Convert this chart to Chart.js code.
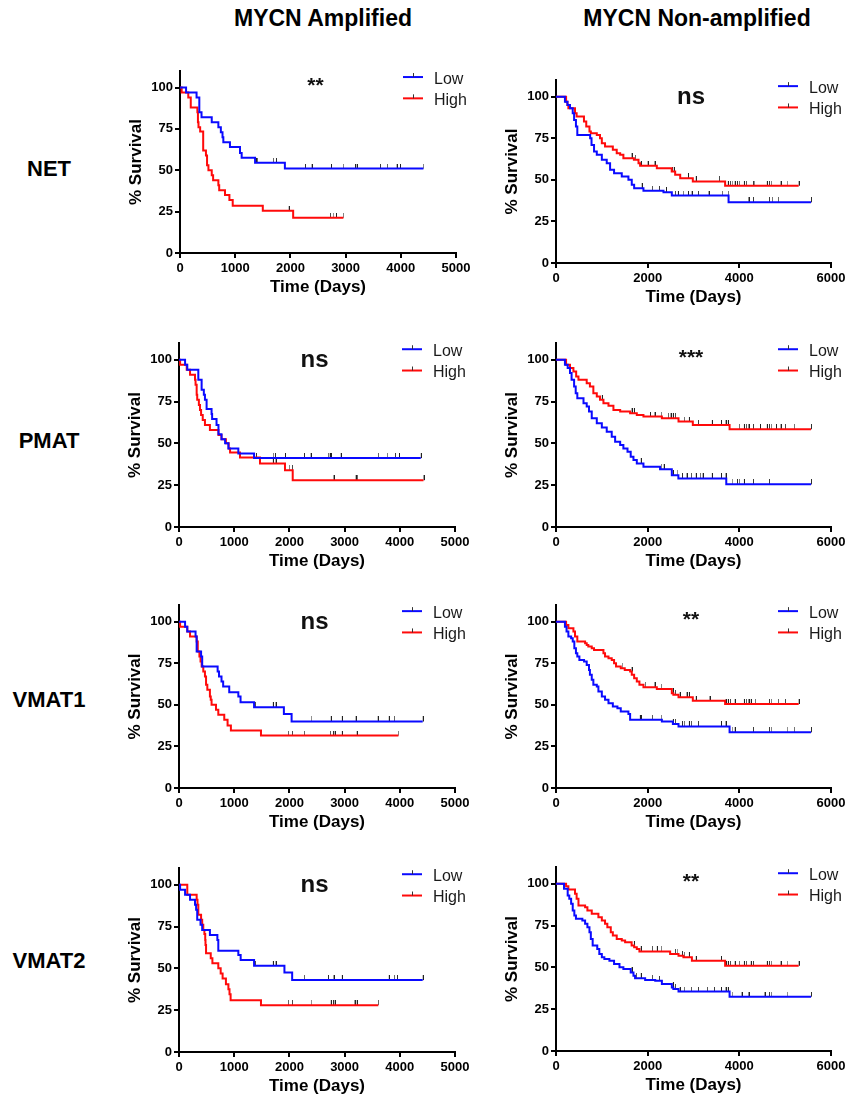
<!DOCTYPE html>
<html>
<head>
<meta charset="utf-8">
<title>KM survival - MYCN</title>
<script src="https://cdn.jsdelivr.net/npm/chart.js@4.4.1/dist/chart.umd.min.js"></script>
<style>
  body { margin: 0; background: #fff; }
  #page { position: relative; width: 849px; height: 1101px; overflow: hidden;
          font-family: "Liberation Sans", Arial, sans-serif; color: #000; }
  .lbl { position: absolute; font-weight: bold; font-size: 22px; line-height: 1;
         white-space: nowrap; transform: translate(-50%, -50%); }
  .lbl.hdr { font-size: 23px; }
  canvas { position: absolute; }
</style>
</head>
<body>
<div id="page"></div>
<script>
// ---- labels ----
const groupLabels = ['MYCN Amplified', 'MYCN Non-amplified'];
const geneLabels = ['NET', 'PMAT', 'VMAT1', 'VMAT2'];
const seriesLabels = ['Low', 'High'];
const sigLabels = ['**', 'ns', 'ns', '***', 'ns', '**', 'ns', '**'];

// ---- axis ticks ----
const yTicks = [0, 25, 50, 75, 100];
const xTicksAmp = [0, 1000, 2000, 3000, 4000, 5000];
const xTicksNon = [0, 2000, 4000, 6000];

// ---- Kaplan-Meier steps: [day, % survival] ; censored days ----
const netAmpLow = [[0,100],[110,97],[300,94],[350,85],[390,82],[575,79],[695,76],[740,73],[770,70],[785,67],[905,64],[1087,60.5],[1117,57.5],[1360,54.5],[1900,51],[4410,51]];
const netAmpLowCens = [1375,1400,1690,1740,2265,2385,2735,2960,3170,3200,3625,3755,3925,3985,4410];
const netAmpHigh = [[0,100],[30,97],[150,94],[195,88],[315,85],[325,79],[335,76],[365,73.5],[420,62],[470,59],[490,53],[515,50],[575,47],[600,44],[695,41],[710,38],[815,35],[895,32],[955,28.5],[1500,25.5],[2050,21.3],[2960,21.3]];
const netAmpHighCens = [600,1970,2050,2720,2780,2825,2960];

const netNonLow = [[0,100],[195,97],[250,95],[305,93],[365,90],[395,86],[435,82],[465,77],[745,75],[775,71],[830,67],[890,65],[1000,62],[1107,60],[1180,56],[1267,54],[1435,52],[1580,50],[1653,47],[1705,45],[1908,43.5],[2345,42.5],[2527,40.5],[3765,36.5],[5565,36.5]];
const netNonLowCens = [1870,2100,2250,2400,2600,2660,2780,2880,2960,3100,3330,3630,3760,4200,4300,4650,4720,4850,5565];
const netNonHigh = [[0,100],[220,97],[250,95],[270,93],[415,90],[450,88],[610,85],[660,82],[730,79],[760,78],[890,77],[960,75],[1000,72],[1070,70],[1240,68],[1325,66],[1400,65],[1470,63],[1700,62],[1800,60],[1835,58.5],[2200,57],[2525,55],[2600,53],[2710,51],[2985,49],[3690,46.5],[5295,46.5]];
const netNonHighCens = [1650,1730,1850,2000,2150,2530,2570,2880,2890,3050,3560,3750,3800,3850,3900,3950,4000,4100,4150,4300,4330,4600,4650,4700,4900,5050,5295];

const pmatAmpLow = [[0,100],[110,97],[150,94],[350,88],[410,82],[450,79],[470,76],[500,70.5],[590,67.5],[600,64.5],[680,61],[715,55.5],[770,52.5],[835,50],[895,47],[1075,44],[1360,41.2],[4380,41.2]];
const pmatAmpLowCens = [1395,1710,1740,1920,2265,2385,2705,2730,2750,2930,3610,3775,3915,3985,4380];
const pmatAmpHigh = [[0,100],[20,97],[140,94],[200,91],[290,88],[300,85],[320,79],[330,76],[360,73],[380,70],[400,67],[430,64],[470,61],[560,58],[715,55],[770,52.5],[850,50],[900,47],[925,44.5],[1105,41.5],[1467,38],[1920,34],[2060,28],[4430,28]];
const pmatAmpHighCens = [1700,1750,2000,2050,2800,3200,3230,4430];

const pmatNonLow = [[0,100],[195,97],[255,95],[305,92],[340,88],[395,84],[430,80],[465,77],[600,74],[670,72],[720,69],[780,65],[890,62],[1000,59.5],[1107,57],[1216,54],[1290,51],[1400,49],[1470,47],[1560,45],[1630,42],[1690,40],[1763,38],[1908,36],[2270,34.5],[2527,31],[2670,29],[3715,25.5],[5565,25.5]];
const pmatNonLowCens = [1850,2300,2350,2550,2650,2750,2850,2950,3050,3150,3200,3400,3600,3700,3850,3950,4000,4100,4300,4650,5565];
const pmatNonHigh = [[0,100],[220,97],[305,95],[380,93],[440,90],[490,88],[670,86],[740,84],[815,80],[890,78],[960,76],[1035,74],[1145,72.5],[1253,70],[1400,69],[1617,68],[1763,67],[1908,66],[2310,65],[2673,63],[2985,61],[3787,58.5],[5565,58.5]];
const pmatNonHighCens = [1000,1650,1700,2050,2150,2300,2450,2500,2550,2600,2800,2900,3100,3400,3600,3700,3750,4000,4100,4150,4200,4300,4450,4600,4650,4700,4800,4900,5000,5200,5565];

const vmat1AmpLow = [[0,100],[110,97],[150,94],[300,91],[320,82],[400,79],[420,73],[700,70],[725,67],[770,64],[800,61],[910,57.5],[1075,55],[1115,51.5],[1360,48.5],[1900,44.5],[2040,40],[4415,40]];
const vmat1AmpLowCens = [1380,1700,1750,2400,2750,2950,3200,3600,3800,3900,4415];
const vmat1AmpHigh = [[0,100],[20,97],[150,94],[200,91],[320,88],[340,82],[370,79],[390,76],[410,73],[440,70],[470,67],[490,62],[513,59],[560,55],[575,53],[590,50],[670,47],[712,44],[820,41],[880,37.5],[940,34.5],[1485,31.5],[3975,31.5]];
const vmat1AmpHighCens = [1980,2050,2270,2740,2790,2820,2950,3220,3975];

const vmat1NonLow = [[0,100],[195,97],[230,94],[270,91],[330,90],[365,88],[400,84],[435,81],[465,79],[510,77],[612,76],[670,74],[720,71],[740,68],[780,65],[815,62],[890,61],[925,58],[1000,55],[1070,53],[1145,51],[1240,49],[1340,48],[1413,46],[1580,44.5],[1617,41],[2310,40],[2550,38.5],[2673,37],[3787,33.5],[5565,33.5]];
const vmat1NonLowCens = [1830,1850,2100,2300,2550,2600,2750,2800,2900,2950,3100,3600,3700,3850,3900,4300,4650,4700,5050,5200,5565];
const vmat1NonHigh = [[0,100],[220,98],[270,96],[380,94],[415,91],[465,88],[635,87],[670,86],[705,85],[780,84],[830,83],[1035,81],[1070,79],[1145,78],[1216,77],[1267,75],[1310,73],[1413,72],[1500,71],[1617,70],[1653,68],[1705,66],[1763,64],[1820,62],[1908,60.5],[2200,59.5],[2527,57],[2560,56],[2673,54.5],[2985,52.5],[3690,50.5],[5295,50.5]];
const vmat1NonHighCens = [1450,1650,1950,2150,2300,2550,2600,2700,2850,2900,3050,3350,3700,3750,3800,3900,4100,4150,4200,4250,4350,4650,4700,4850,5000,5295];

const vmat2AmpLow = [[0,100],[20,97],[110,94],[200,91],[290,88],[310,85],[330,79],[390,76],[420,73],[560,70],[695,67],[712,60.5],[1075,58],[1117,55],[1360,51.5],[1910,47.5],[2050,43],[4415,43]];
const vmat2AmpLowCens = [1380,1700,1750,2270,2700,2800,2950,3800,3900,3950,4415];
const vmat2AmpHigh = [[0,100],[150,94],[320,91],[335,88],[350,82],[400,79],[420,76],[440,73],[460,70.5],[475,67],[480,64],[490,59],[575,56],[605,53],[712,50],[755,47],[790,44],[850,40.5],[895,37.5],[915,34.5],[935,31],[1485,28],[3610,28]];
const vmat2AmpHighCens = [1980,2050,2400,2750,2790,2820,3180,3220,3610];

const vmat2NonLow = [[0,100],[175,97],[255,93],[290,91],[330,88],[365,84],[400,81],[435,79],[575,78],[635,76],[685,74],[730,71],[760,67],[800,63],[900,61],[945,58],[1000,56],[1055,55],[1165,54],[1267,52],[1385,50],[1470,49],[1630,47],[1690,45],[1725,43.5],[1945,42.5],[2165,42],[2310,40],[2527,38],[2560,37],[2673,35.5],[3787,32.5],[5565,32.5]];
const vmat2NonLowCens = [1650,1750,1850,2100,2250,2550,2600,2700,2800,2950,3100,3300,3450,3600,3700,3750,3850,4050,4200,4550,4650,4700,5050,5565];
const vmat2NonHigh = [[0,100],[220,98.5],[270,96.5],[415,94],[450,91],[490,87],[635,86],[685,84],[780,82],[925,80],[1000,78],[1070,76],[1120,74],[1195,71],[1240,69],[1325,67],[1435,66],[1508,65],[1650,63],[1705,62],[1763,61],[1820,59.5],[2490,58],[2673,57],[2780,56],[2965,54],[3690,51],[5295,51]];
const vmat2NonHighCens = [1700,1850,2100,2200,2300,2600,2650,2750,2800,2900,3050,3600,3700,3750,3800,3900,4000,4100,4150,4250,4300,4600,4650,4700,4900,5050,5295];

const BLUE = '#0a0aff';
const RED = '#ff0a0a';

// panels in reading order, with the page box of each plot area [left, right, top(110%), bottom(0%)]
const panels = [
  { low: netAmpLow, lowCens: netAmpLowCens, high: netAmpHigh, highCens: netAmpHighCens, xMax: 5000, xTicks: xTicksAmp, box: [180, 456, 71, 253] },
  { low: netNonLow, lowCens: netNonLowCens, high: netNonHigh, highCens: netNonHighCens, xMax: 6000, xTicks: xTicksNon, box: [556, 831, 80, 263] },
  { low: pmatAmpLow, lowCens: pmatAmpLowCens, high: pmatAmpHigh, highCens: pmatAmpHighCens, xMax: 5000, xTicks: xTicksAmp, box: [179, 455, 343, 527] },
  { low: pmatNonLow, lowCens: pmatNonLowCens, high: pmatNonHigh, highCens: pmatNonHighCens, xMax: 6000, xTicks: xTicksNon, box: [556, 831, 343, 527] },
  { low: vmat1AmpLow, lowCens: vmat1AmpLowCens, high: vmat1AmpHigh, highCens: vmat1AmpHighCens, xMax: 5000, xTicks: xTicksAmp, box: [179, 455, 605, 788] },
  { low: vmat1NonLow, lowCens: vmat1NonLowCens, high: vmat1NonHigh, highCens: vmat1NonHighCens, xMax: 6000, xTicks: xTicksNon, box: [556, 831, 605, 788] },
  { low: vmat2AmpLow, lowCens: vmat2AmpLowCens, high: vmat2AmpHigh, highCens: vmat2AmpHighCens, xMax: 5000, xTicks: xTicksAmp, box: [179, 455, 868, 1052] },
  { low: vmat2NonLow, lowCens: vmat2NonLowCens, high: vmat2NonHigh, highCens: vmat2NonHighCens, xMax: 6000, xTicks: xTicksNon, box: [556, 831, 867, 1051] },
];

const Y_AXIS_W = 78, PAD_TOP = 12, PAD_RIGHT = 24, X_AXIS_H = 50, PAD_BOTTOM = 4;
const FONT = '"Liberation Sans", Arial, sans-serif';
const page = document.getElementById('page');

// header + row labels as plain text
function addLabel(text, x, y, cls) {
  const d = document.createElement('div');
  d.className = 'lbl' + (cls ? ' ' + cls : '');
  d.textContent = text;
  d.style.left = x + 'px';
  d.style.top = y + 'px';
  page.appendChild(d);
}
addLabel(groupLabels[0], 323, 18, 'hdr');
addLabel(groupLabels[1], 697, 18, 'hdr');
[169, 441, 700, 961].forEach((y, i) => addLabel(geneLabels[i], 49, y));

// censor mark: short upward tick
const tickMark = document.createElement('canvas');
tickMark.width = 2;
tickMark.height = 10;
(function () {
  const c = tickMark.getContext('2d');
  c.fillStyle = '#222';
  c.fillRect(1, 0, 1, 5);
})();

// survival value of a step curve at a given day
function survivalAt(curve, day) {
  let s = curve[0][1];
  for (const [t, v] of curve) {
    if (t <= day) s = v;
  }
  return s;
}

// legend + significance label drawn into the plot
const kmDecor = {
  id: 'kmDecor',
  afterDatasetsDraw(chart, args, opts) {
    const { ctx, chartArea, scales } = chart;
    const y100 = scales.y.getPixelForValue(100);
    ctx.save();

    // significance
    const sig = opts.sig;
    const cx = (chartArea.left + chartArea.right) / 2 - 2.5;
    ctx.fillStyle = '#111';
    ctx.textAlign = 'center';
    ctx.textBaseline = 'alphabetic';
    if (sig === 'ns') {
      ctx.font = 'bold 24px ' + FONT;
      ctx.fillText(sig, cx, y100 + 1.5 + 6);
    } else {
      ctx.font = 'bold 21px ' + FONT;
      ctx.fillText(sig, cx, y100 - 5 + 9.5);
    }

    // legend
    const x0 = chartArea.right - 53;
    chart.data.datasets.filter(d => !d.censor).forEach((d, i) => {
      const ly = y100 - 10.5 + i * 21.3;
      ctx.strokeStyle = d.borderColor;
      ctx.lineWidth = 2;
      ctx.beginPath();
      ctx.moveTo(x0, ly);
      ctx.lineTo(x0 + 20, ly);
      ctx.stroke();
      ctx.strokeStyle = '#333';
      ctx.lineWidth = 1;
      ctx.beginPath();
      ctx.moveTo(x0 + 10.5, ly - 4);
      ctx.lineTo(x0 + 10.5, ly);
      ctx.stroke();
      ctx.fillStyle = '#1a1a1a';
      ctx.font = '16px ' + FONT;
      ctx.textAlign = 'left';
      ctx.fillText(d.label, x0 + 31, ly + 6.5);
    });
    ctx.restore();
  }
};

function stepSet(label, curve, color) {
  return {
    label: label,
    data: curve.map(([t, v]) => ({ x: t, y: v })),
    borderColor: color,
    backgroundColor: color,
    borderWidth: 2,
    stepped: 'before',
    pointRadius: 0,
    fill: false,
    tension: 0,
  };
}

function censorSet(label, curve, days) {
  return {
    label: label + ' censored',
    censor: true,
    data: days.map(t => ({ x: t, y: survivalAt(curve, t) })),
    showLine: false,
    pointStyle: tickMark,
    pointRadius: 3,
  };
}

function makeKM(p, sig) {
  const [left, right, top, bottom] = p.box;
  const cv = document.createElement('canvas');
  const w = right - left + Y_AXIS_W + PAD_RIGHT;
  const h = bottom - top + PAD_TOP + X_AXIS_H + PAD_BOTTOM;
  cv.width = w;
  cv.height = h;
  cv.style.left = (left - Y_AXIS_W) + 'px';
  cv.style.top = (top - PAD_TOP) + 'px';
  cv.style.width = w + 'px';
  cv.style.height = h + 'px';
  page.appendChild(cv);

  const axisCommon = {
    type: 'linear',
    grid: { display: true, drawOnChartArea: false, drawTicks: true, tickLength: 5, color: '#000', lineWidth: 2 },
    border: { display: true, color: '#000', width: 2 },
  };

  return new Chart(cv.getContext('2d'), {
    type: 'line',
    data: {
      datasets: [
        stepSet(seriesLabels[0], p.low, BLUE),
        stepSet(seriesLabels[1], p.high, RED),
        censorSet(seriesLabels[0], p.low, p.lowCens),
        censorSet(seriesLabels[1], p.high, p.highCens),
      ],
    },
    options: {
      responsive: false,
      animation: false,
      devicePixelRatio: 1,
      layout: { padding: { left: 0, top: PAD_TOP, right: PAD_RIGHT, bottom: PAD_BOTTOM } },
      plugins: {
        legend: { display: false },
        tooltip: { enabled: false },
        kmDecor: { sig: sig },
      },
      scales: {
        x: {
          ...axisCommon,
          position: 'bottom',
          min: 0,
          max: p.xMax,
          afterBuildTicks: axis => { axis.ticks = p.xTicks.map(v => ({ value: v })); },
          afterFit: axis => { axis.height = X_AXIS_H; },
          ticks: { color: '#000', font: { family: FONT, weight: 'bold', size: 13 }, padding: 3, maxRotation: 0, callback: v => String(v) },
          title: { display: true, text: 'Time (Days)', color: '#000', font: { family: FONT, weight: 'bold', size: 17 }, padding: { top: 0, bottom: 5 } },
        },
        y: {
          ...axisCommon,
          position: 'left',
          min: 0,
          max: 110,
          afterBuildTicks: axis => { axis.ticks = yTicks.map(v => ({ value: v })); },
          afterFit: axis => { axis.width = Y_AXIS_W; },
          ticks: { color: '#000', font: { family: FONT, weight: 'bold', size: 13 }, padding: 2, callback: v => String(v) },
          title: { display: true, text: '% Survival', color: '#000', font: { family: FONT, weight: 'bold', size: 17 }, padding: { top: 24, bottom: 0 } },
        },
      },
    },
    plugins: [kmDecor],
  });
}

panels.forEach((p, i) => makeKM(p, sigLabels[i]));
</script>
</body>
</html>
